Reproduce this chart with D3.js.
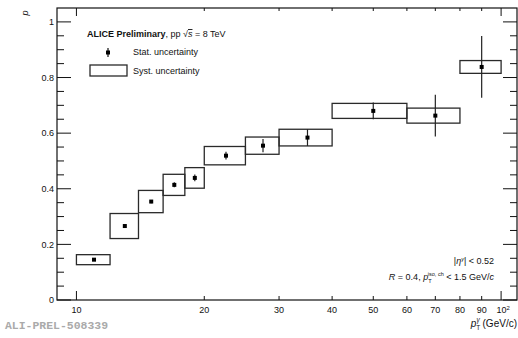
<!DOCTYPE html>
<html>
<head>
<meta charset="utf-8">
<script src="https://cdn.jsdelivr.net/npm/d3@7"></script>
<style>
  body { margin: 0; background: #fff; }
  svg { display: block; font-family: "Liberation Sans", Arial, sans-serif; }
</style>
</head>
<body>
<div id="chart"></div>
<script>
// Bin edges in pT (GeV/c)
const binLo = [10, 12, 14, 16, 18, 20, 25, 30, 40, 60, 80];
const binHi = [12, 14, 16, 18, 20, 25, 30, 40, 60, 80, 100];
// Purity values with stat / syst uncertainties
const values = [0.145, 0.266, 0.354, 0.414, 0.439, 0.519, 0.555, 0.584, 0.680, 0.663, 0.838];
const statErr = [0.004, 0.005, 0.006, 0.009, 0.012, 0.014, 0.024, 0.030, 0.030, 0.075, 0.111];
const systErr = [0.018, 0.045, 0.040, 0.038, 0.037, 0.033, 0.031, 0.030, 0.027, 0.027, 0.023];
// Axis ticks
const xTicks = [10, 20, 30, 40, 50, 60, 70, 80, 90, 100];
const yMajor = [0, 0.2, 0.4, 0.6, 0.8, 1];

const W = 518, H = 338;
const frame = { left: 57, right: 517, top: 8, bottom: 300 };

const svg = d3.select("#chart").append("svg")
  .attr("width", W).attr("height", H);

const x = d3.scaleLog().domain([9, 109]).range([frame.left, frame.right]);
const y = d3.scaleLinear().domain([0, 1.05]).range([frame.bottom, frame.top]);

const data = values.map((v, i) => ({
  lo: binLo[i], hi: binHi[i], mid: (binLo[i] + binHi[i]) / 2,
  v: v, stat: statErr[i], syst: systErr[i]
}));

// Frame
svg.append("rect")
  .attr("x", frame.left).attr("y", frame.top)
  .attr("width", frame.right - frame.left).attr("height", frame.bottom - frame.top)
  .attr("fill", "none").attr("stroke", "#111").attr("stroke-width", 1.2);

// Y ticks, left and right
const yMinor = d3.range(0, 21).map((i) => i * 0.05);
const yt = svg.append("g").attr("stroke", "#111").attr("stroke-width", 1);
yMinor.forEach((t) => {
  const isMajor = Math.abs(Math.round(t * 5) - t * 5) < 1e-6;
  const len = isMajor ? 14 : 7;
  yt.append("line").attr("x1", frame.left).attr("x2", frame.left + len)
    .attr("y1", y(t)).attr("y2", y(t));
  yt.append("line").attr("x1", frame.right).attr("x2", frame.right - len)
    .attr("y1", y(t)).attr("y2", y(t));
});

svg.append("g").selectAll("text")
  .data(yMajor).enter().append("text")
  .attr("x", frame.left - 3).attr("y", (d) => y(d) + 3.2)
  .attr("text-anchor", "end").attr("font-size", 9).attr("fill", "#111")
  .text((d) => d3.format("~g")(d));

// X ticks, bottom and top
const xt = svg.append("g").attr("stroke", "#111").attr("stroke-width", 1);
xTicks.forEach((t) => {
  const len = (t === 10 || t === 100) ? 9 : 4;
  xt.append("line").attr("x1", x(t)).attr("x2", x(t))
    .attr("y1", frame.bottom).attr("y2", frame.bottom - len);
  xt.append("line").attr("x1", x(t)).attr("x2", x(t))
    .attr("y1", frame.top).attr("y2", frame.top + len - 1);
});

const xl = svg.append("g").attr("font-size", 9).attr("fill", "#111");
xTicks.forEach((t) => {
  const txt = xl.append("text")
    .attr("x", x(t) + (t === 100 ? 2 : 0)).attr("y", frame.bottom + 13)
    .attr("text-anchor", "middle");
  if (t === 100) {
    txt.append("tspan").text("10");
    txt.append("tspan").attr("dy", -3.5).attr("font-size", 6).text("2");
  } else {
    txt.text(t);
  }
});

// Systematic boxes
svg.append("g").selectAll("rect")
  .data(data).enter().append("rect")
  .attr("x", (d) => x(d.lo))
  .attr("width", (d) => x(d.hi) - x(d.lo))
  .attr("y", (d) => y(d.v + d.syst))
  .attr("height", (d) => y(d.v - d.syst) - y(d.v + d.syst))
  .attr("fill", "none").attr("stroke", "#2a2a2a").attr("stroke-width", 1.3);

// Stat error bars
svg.append("g").selectAll("line")
  .data(data).enter().append("line")
  .attr("x1", (d) => x(d.mid)).attr("x2", (d) => x(d.mid))
  .attr("y1", (d) => y(d.v + d.stat)).attr("y2", (d) => y(d.v - d.stat))
  .attr("stroke", "#222").attr("stroke-width", 1.2);

// Markers
svg.append("g").selectAll("rect")
  .data(data).enter().append("rect")
  .attr("x", (d) => x(d.mid) - 2).attr("y", (d) => y(d.v) - 2)
  .attr("width", 4).attr("height", 4).attr("fill", "#000");

// Legend
const leg = svg.append("g").attr("font-size", 9).attr("fill", "#111");
const head = leg.append("text").attr("x", 87).attr("y", 37);
head.append("tspan").attr("font-weight", "bold").text("ALICE Preliminary");
head.append("tspan").text(", pp \u221A");
head.append("tspan").attr("text-decoration", "overline").attr("font-style", "italic").text("s");
head.append("tspan").text(" = 8 TeV");

leg.append("line").attr("x1", 108).attr("x2", 108).attr("y1", 48).attr("y2", 57)
  .attr("stroke", "#111").attr("stroke-width", 1.2);
leg.append("rect").attr("x", 106).attr("y", 50.5).attr("width", 4).attr("height", 4)
  .attr("fill", "#000");
leg.append("text").attr("x", 133).attr("y", 55).text("Stat. uncertainty");

leg.append("rect").attr("x", 90).attr("y", 65).attr("width", 37).attr("height", 11)
  .attr("fill", "none").attr("stroke", "#2a2a2a").attr("stroke-width", 1.3);
leg.append("text").attr("x", 133).attr("y", 74).text("Syst. uncertainty");

// Bottom-right annotation
const ann = svg.append("g").attr("font-size", 9).attr("fill", "#111").attr("text-anchor", "end");
const a1 = ann.append("text").attr("x", 494).attr("y", 264);
a1.append("tspan").text("|");
a1.append("tspan").attr("font-style", "italic").text("\u03B7");
a1.append("tspan").attr("dy", -3.5).attr("font-size", 5.5).attr("font-style", "italic").text("\u03B3");
a1.append("tspan").attr("dy", 3.5).text("| < 0.52");

const a2 = ann.append("text").attr("x", 494).attr("y", 280);
a2.append("tspan").attr("font-style", "italic").text("R");
a2.append("tspan").text(" = 0.4, ");
a2.append("tspan").attr("font-style", "italic").text("p");
a2.append("tspan").attr("dy", 3).attr("font-size", 5.5).text("T");
a2.append("tspan").attr("dy", -7.5).attr("font-size", 5.5).attr("dx", -3.5).text("iso, ch");
a2.append("tspan").attr("dy", 4.5).text(" < 1.5 GeV/");
a2.append("tspan").attr("font-style", "italic").text("c");

// X axis title
const xtitle = svg.append("text").attr("x", 517).attr("y", 327)
  .attr("text-anchor", "end").attr("font-size", 10).attr("fill", "#111");
xtitle.append("tspan").attr("font-style", "italic").text("p");
xtitle.append("tspan").attr("dy", 3).attr("font-size", 6.5).text("T");
xtitle.append("tspan").attr("dy", -8.5).attr("font-size", 6.5).attr("font-style", "italic").attr("dx", -3.8).text("\u03B3");
xtitle.append("tspan").attr("dy", 5.5).text(" (GeV/c)");

// Y axis title
svg.append("text").attr("transform", "translate(28,13) rotate(-90)")
  .attr("text-anchor", "middle").attr("font-size", 9).attr("font-style", "italic")
  .attr("fill", "#111").text("p");

// Plot identifier
svg.append("text").attr("x", 5).attr("y", 329)
  .attr("font-family", "'Liberation Mono', monospace").attr("font-weight", "bold")
  .attr("font-size", 10.5).attr("fill", "#aaa")
  .attr("textLength", 103).attr("lengthAdjust", "spacingAndGlyphs")
  .text("ALI-PREL-508339");
</script>
</body>
</html>
